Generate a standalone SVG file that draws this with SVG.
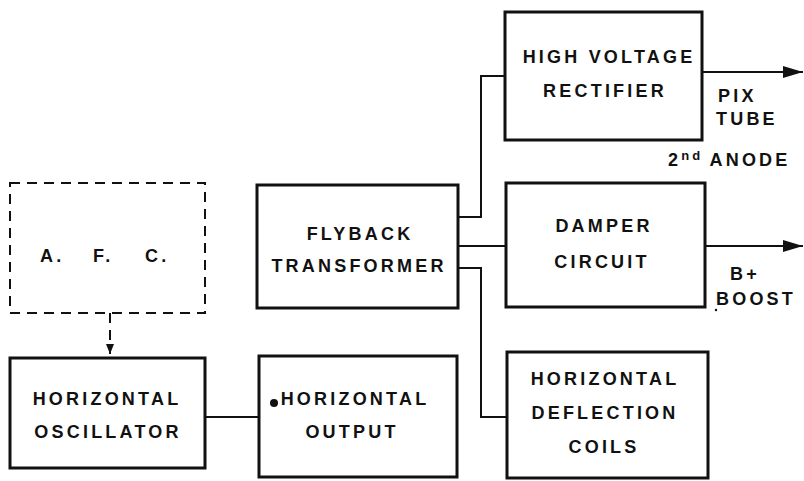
<svg xmlns="http://www.w3.org/2000/svg" width="804" height="481" viewBox="0 0 804 481">
<style>
.box{fill:none;stroke:#111;stroke-width:3}
.dash{fill:none;stroke:#111;stroke-width:2;stroke-dasharray:10,7}
.wire{fill:none;stroke:#111;stroke-width:2}
text{font-family:"Liberation Sans",Arial,sans-serif;font-weight:bold;font-size:18px;fill:#111;letter-spacing:3.2px;text-anchor:middle}
.lbl{text-anchor:start}
</style>
<defs>
<marker id="arr" viewBox="0 0 10 10" refX="10" refY="5" markerWidth="10" markerHeight="10" markerUnits="userSpaceOnUse" orient="auto">
<path d="M0,1 L10,5 L0,9 z" fill="#111"/>
</marker>
<marker id="arrbig" viewBox="0 0 20 12" refX="20" refY="6" markerWidth="22" markerHeight="12" markerUnits="userSpaceOnUse" orient="auto">
<path d="M0,0 L20,6 L0,12 z" fill="#111"/>
</marker>
</defs>
<rect width="804" height="481" fill="#fff"/>
<g id="connectors">
<path class="dash" d="M110,313 L110,354" marker-end="url(#arr)"/>
<path class="wire" d="M205,417 L259,417"/>
<path class="wire" d="M458,217 L481,217 L481,76 L505,76"/>
<path class="wire" d="M458,246 L506,246"/>
<path class="wire" d="M458,268 L481,268 L481,417 L507,417"/>
<path class="wire" d="M702,72 L803,72" marker-end="url(#arrbig)"/>
<path class="wire" d="M705,246 L803,246" marker-end="url(#arrbig)"/>
<circle cx="274" cy="403" r="4" fill="#111"/>
</g>
<g id="afc">
<rect class="dash" x="10" y="183" width="195" height="130"/>
<text class="lbl" x="40" y="262">A.</text>
<text class="lbl" x="93" y="262">F.</text>
<text class="lbl" x="145" y="262">C.</text>
</g>
<g id="osc">
<rect class="box" x="10" y="358" width="195" height="110"/>
<text x="107" y="405">HORIZONTAL</text>
<text x="108" y="438">OSCILLATOR</text>
</g>
<g id="output">
<rect class="box" x="259" y="356" width="198" height="121"/>
<text x="355" y="405">HORIZONTAL</text>
<text x="352" y="438">OUTPUT</text>
</g>
<g id="flyback">
<rect class="box" x="257" y="185" width="201" height="123"/>
<text x="360" y="240">FLYBACK</text>
<text x="359" y="272">TRANSFORMER</text>
</g>
<g id="hvr">
<rect class="box" x="505" y="12" width="197" height="128"/>
<text x="609" y="63">HIGH VOLTAGE</text>
<text x="605" y="97">RECTIFIER</text>
<text class="lbl" x="718" y="102">PIX</text>
<text class="lbl" x="716" y="125">TUBE</text>
<text class="lbl" x="668" y="166">2<tspan dy="-6" font-size="13">nd</tspan><tspan dy="6" dx="6">ANODE</tspan></text>
</g>
<g id="damper">
<rect class="box" x="506" y="183" width="199" height="124"/>
<text x="604" y="232">DAMPER</text>
<text x="602" y="268">CIRCUIT</text>
<text class="lbl" x="730" y="280">B+</text>
<text class="lbl" x="716" y="305">BOOST</text>
<circle cx="716" cy="310" r="1.2" fill="#111"/>
</g>
<g id="coils">
<rect class="box" x="507" y="352" width="201" height="126"/>
<text x="605" y="385">HORIZONTAL</text>
<text x="605" y="419">DEFLECTION</text>
<text x="604" y="453">COILS</text>
</g>
</svg>
